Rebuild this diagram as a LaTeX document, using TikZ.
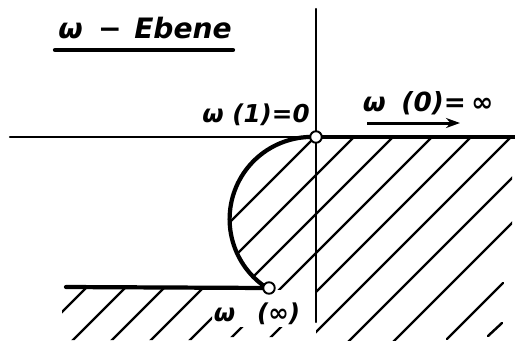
\documentclass[tikz,border=0pt]{standalone}
\usepackage{fontspec}
\setsansfont{DejaVu Sans}
\usetikzlibrary{arrows.meta}
\tikzset{
  axis/.style={line width=1.4pt,line cap=round},
  rim/.style={line width=2.4pt,line cap=round},
  hatch/.style={line width=1.4pt,line cap=round},
  pole/.style={circle,draw,line width=1.1pt,fill=white,inner sep=0pt,minimum size=0.23cm},
  lbl/.style={font=\sffamily\bfseries\itshape\fontsize{14}{16}\selectfont,inner sep=0pt},
  arr/.style={-{Stealth[length=2.8mm,width=2mm]},line width=1.7pt}}

\begin{document}
\begin{tikzpicture}[x=0.02cm,y=-0.02cm]
\useasboundingbox (0,0) rectangle (515,343);
\coordinate (w1) at (316,137);
\coordinate (winf) at (269,288);

% hatching: right half plane
\begin{scope}
\clip (316,137) rectangle (512,340);
\foreach \c in {491,530,569,608,648,690,735}
  \draw[hatch] ({\c-130},130) -- ({\c-345},345);
\end{scope}
\draw[hatch] (503,283) -- (447,339);
\draw[hatch] (502,323) -- (488,336);
% hatching: inside the arc
\begin{scope}
\clip plot[domain=-87:-239.5,samples=60,variable=\t] ({311.8+82.2*cos(\t)},{219.1+82.2*sin(\t)}) -- (316,290) -- cycle;
\foreach \c in {452,491,530,569}
  \draw[hatch] ({\c-130},130) -- ({\c-300},300);
\end{scope}
% hatching: below the lower edge
\begin{scope}
\clip (62,286) rectangle (212,340) (190,327) rectangle (285,337);
\foreach \c in {374,413,452,491,530,569,608}
  \draw[hatch] ({\c-280},280) -- ({\c-345},345);
\end{scope}

% axes and boundary
\draw[axis] (316,9) -- (316,322);
\draw[axis] (10,137) -- (w1);
\draw[rim] (w1) -- (515,137);
\draw[rim] plot[domain=-87:-239.5,samples=60,variable=\t] ({311.8+82.2*cos(\t)},{219.1+82.2*sin(\t)});
\draw[rim] (66,287) -- (winf);

\node[pole] at (w1) {};
\node[pole] at (winf) {};

% labels
\node[lbl,font=\sffamily\bfseries\itshape\fontsize{16}{19}\selectfont] (title) at (145,28) {ω\hspace{0.2em} − \hspace{0.1em}Ebene};
\draw[rim] (55,50) -- (233,50);
\node[lbl] (l1) at (256,115) {ω (1)=0};
\node[lbl,font=\sffamily\bfseries\itshape\fontsize{15}{18}\selectfont] (l0) at (428,103) {ω\hspace{0.6em}(0)=\hspace{0.2em}∞};
\draw[arr] (367,123) -- (460,123);
\node[lbl] (linf) at (257,314) {ω\hspace{0.9em}(∞)};
\end{tikzpicture}
\end{document}
